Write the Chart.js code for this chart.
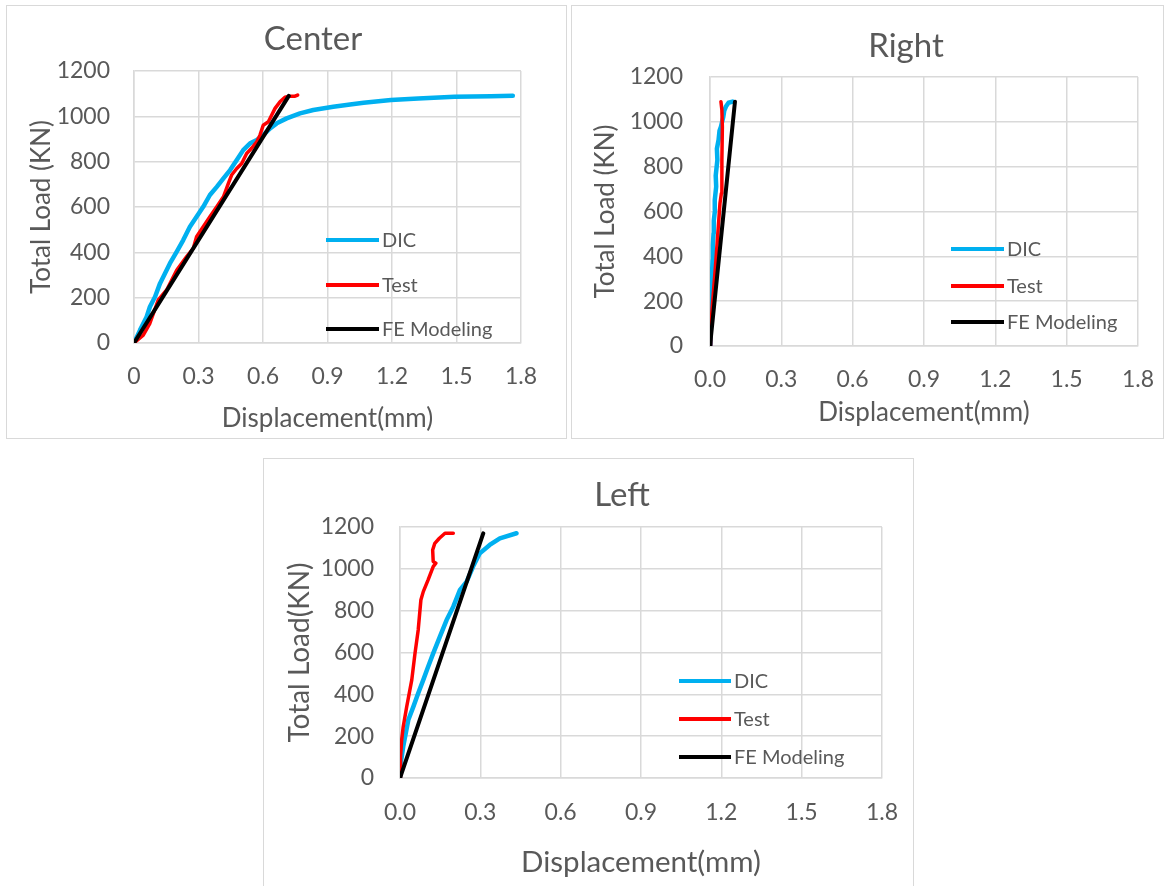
<!DOCTYPE html>
<html>
<head>
<meta charset="utf-8">
<title>Total Load vs Displacement</title>
<script src="https://cdn.jsdelivr.net/npm/chart.js@4.4.1/dist/chart.umd.min.js"></script>
<style>
    html, body { margin: 0; padding: 0; background: #fff; overflow: hidden; width: 1165px; height: 886px; }
    .box { position: absolute; border: 1px solid #D9D9D9; box-sizing: border-box; }
    canvas { position: absolute; }
</style>
</head>
<body>
<div class="box" style="left:6px;top:5px;width:561px;height:434px"></div>
<div class="box" style="left:571px;top:5px;width:593px;height:434px"></div>
<div class="box" style="left:263px;top:458px;width:651px;height:440px"></div>
<canvas id="centerChart" width="561" height="434" style="left:6px;top:5px"></canvas>
<canvas id="rightChart" width="603" height="434" style="left:571px;top:5px"></canvas>
<canvas id="leftChart" width="656" height="428" style="left:263px;top:458px"></canvas>

<script>
// axis ticks
const xTicks = [0, 0.3, 0.6, 0.9, 1.2, 1.5, 1.8];
const xLabelsCenter = ['0', '0.3', '0.6', '0.9', '1.2', '1.5', '1.8'];
const xLabelsSide = ['0.0', '0.3', '0.6', '0.9', '1.2', '1.5', '1.8'];
const yTicks = [0, 200, 400, 600, 800, 1000, 1200];
const yLabels = ['0', '200', '400', '600', '800', '1000', '1200'];
const seriesNames = ['DIC', 'Test', 'FE Modeling'];

// Center
const centerDicDisp = [0, 0.028, 0.059, 0.074, 0.098, 0.121, 0.144, 0.167, 0.199, 0.229, 0.260, 0.291, 0.322, 0.353, 0.385, 0.416, 0.447, 0.478, 0.508, 0.540, 0.571, 0.601, 0.633, 0.664, 0.710, 0.772, 0.834, 0.927, 1.005, 1.068, 1.195, 1.322, 1.491, 1.660, 1.762];
const centerDicLoad = [0, 57, 116, 160, 204, 263, 307, 351, 403, 454, 513, 557, 601, 653, 689, 726, 763, 807, 851, 881, 895, 917, 947, 969, 991, 1013, 1028, 1042, 1052, 1060, 1072, 1079, 1086, 1089, 1091];
const centerTestDisp = [0, 0.043, 0.074, 0.113, 0.152, 0.199, 0.245, 0.276, 0.291, 0.322, 0.353, 0.385, 0.416, 0.439, 0.454, 0.478, 0.501, 0.524, 0.547, 0.571, 0.586, 0.601, 0.625, 0.640, 0.656, 0.679, 0.702, 0.726, 0.749, 0.761];
const centerTestLoad = [0, 35, 87, 190, 234, 322, 381, 418, 469, 513, 557, 601, 645, 704, 741, 770, 792, 836, 859, 888, 917, 961, 976, 1005, 1035, 1064, 1084, 1089, 1089, 1094];
const centerFeDisp = [0, 0.72];
const centerFeLoad = [0, 1090];

// Right
const rightDicDisp = [0, 0.003, 0.005, 0.007, 0.008, 0.011, 0.012, 0.015, 0.016, 0.021, 0.020, 0.026, 0.024, 0.031, 0.029, 0.036, 0.040, 0.046, 0.056, 0.060, 0.067, 0.078, 0.095];
const rightDicLoad = [0, 56, 150, 235, 300, 384, 450, 503, 560, 607, 650, 711, 760, 830, 880, 919, 960, 978, 1023, 1050, 1068, 1085, 1090];
const rightTestDisp = [0, 0.003, 0.014, 0.025, 0.035, 0.042, 0.048, 0.050, 0.052, 0.050, 0.046];
const rightTestLoad = [0, 86, 235, 384, 532, 637, 681, 830, 978, 1053, 1090];
const rightFeDisp = [0, 0.105];
const rightFeLoad = [0, 1090];

// Left
const leftDicDisp = [0, 0.004, 0.012, 0.031, 0.050, 0.068, 0.087, 0.105, 0.124, 0.149, 0.174, 0.199, 0.224, 0.249, 0.273, 0.298, 0.335, 0.373, 0.435];
const leftDicLoad = [0, 80, 150, 277, 341, 405, 469, 532, 596, 676, 755, 819, 899, 939, 1011, 1074, 1114, 1146, 1170];
const leftTestDisp = [0, 0.002, 0.006, 0.012, 0.025, 0.044, 0.056, 0.068, 0.078, 0.087, 0.105, 0.124, 0.134, 0.124, 0.122, 0.130, 0.147, 0.168, 0.199];
const leftTestLoad = [0, 100, 180, 245, 341, 469, 596, 708, 851, 891, 947, 1011, 1027, 1035, 1090, 1122, 1146, 1170, 1170];
const leftFeDisp = [0, 0.311];
const leftFeLoad = [0, 1170];

const seriesColors = ['#00B0F0', '#FF0000', '#000000'];
const seriesWidths = [4.5, 3.5, 4];
const textColor = '#595959';
const gridColor = '#D9D9D9';
const fontFamily = 'Lato, "Open Sans", sans-serif';

// chart title placed where Excel put it (not centred on the canvas)
const boxTitle = {
    id: 'boxTitle',
    afterDraw(chart, args, opts) {
        const ctx = chart.ctx;
        ctx.save();
        ctx.font = '33px ' + fontFamily;
        ctx.fillStyle = textColor;
        ctx.textAlign = 'center';
        ctx.textBaseline = 'middle';
        ctx.fillText(opts.text, opts.x, opts.y);
        ctx.restore();
    }
};

// legend drawn inside the plot area, like the Excel original
const insideLegend = {
    id: 'insideLegend',
    afterDraw(chart, args, opts) {
        const ctx = chart.ctx;
        ctx.save();
        ctx.font = '20px ' + fontFamily;
        ctx.textBaseline = 'middle';
        ctx.textAlign = 'left';
        chart.data.datasets.forEach((ds, i) => {
            const y = opts.y[i];
            ctx.strokeStyle = ds.borderColor;
            ctx.lineWidth = 4;
            ctx.beginPath();
            ctx.moveTo(opts.x, y);
            ctx.lineTo(opts.x + opts.len, y);
            ctx.stroke();
            ctx.fillStyle = textColor;
            ctx.fillText(ds.label, opts.x + opts.len + 3, y + 1);
        });
        ctx.restore();
    }
};

function buildChart(id, p) {
    const datasets = p.series.map((s, i) => ({
        label: seriesNames[i],
        data: s[0].map((x, k) => ({ x: x, y: s[1][k] })),
        showLine: true,
        borderColor: seriesColors[i],
        backgroundColor: seriesColors[i],
        borderWidth: seriesWidths[i],
        borderCapStyle: 'round',
        borderJoinStyle: 'round',
        pointRadius: 0,
        tension: 0,
        order: 3 - i
    }));

    return new Chart(document.getElementById(id), {
        type: 'scatter',
        data: { datasets: datasets },
        options: {
            responsive: false,
            animation: false,
            layout: { padding: { left: 0, right: p.padRight, top: p.padTop, bottom: 0 } },
            plugins: {
                legend: { display: false },
                tooltip: { enabled: false },
                title: { display: false },
                boxTitle: p.title,
                insideLegend: p.legend
            },
            scales: {
                x: {
                    type: 'linear',
                    min: 0,
                    max: 1.8,
                    afterFit: s => { s.height = p.xHeight; },
                    afterBuildTicks: s => { s.ticks = xTicks.map(v => ({ value: v })); },
                    ticks: {
                        callback: (v, i) => p.xLabels[i],
                        color: textColor,
                        font: { family: fontFamily, size: 23 },
                        padding: p.xTickPad,
                        maxRotation: 0
                    },
                    grid: { color: gridColor, lineWidth: 1.5, drawTicks: false },
                    border: { color: gridColor, width: 1.5 },
                    title: {
                        display: true,
                        text: 'Displacement(mm)',
                        color: textColor,
                        font: { family: fontFamily, size: p.xTitleSize, lineHeight: 1.2 },
                        padding: { top: 0, bottom: p.xTitleBottom }
                    }
                },
                y: {
                    type: 'linear',
                    min: 0,
                    max: 1200,
                    afterFit: s => { s.width = p.yWidth; },
                    afterBuildTicks: s => { s.ticks = yTicks.map(v => ({ value: v })); },
                    ticks: {
                        callback: (v, i) => yLabels[i],
                        color: textColor,
                        font: { family: fontFamily, size: 23 },
                        padding: p.yTickPad
                    },
                    grid: { color: gridColor, lineWidth: 1.5, drawTicks: false },
                    border: { color: gridColor, width: 1.5 },
                    title: {
                        display: true,
                        text: p.yTitle,
                        color: textColor,
                        font: { family: fontFamily, size: p.yTitleSize, lineHeight: 1.2 },
                        padding: { top: p.yTitleTop, bottom: 0 }
                    }
                }
            }
        },
        plugins: [boxTitle, insideLegend]
    });
}

buildChart('centerChart', {
    title: { text: 'Center', x: 307, y: 34 },
    series: [[centerDicDisp, centerDicLoad], [centerTestDisp, centerTestLoad], [centerFeDisp, centerFeLoad]],
    xLabels: xLabelsCenter,
    yTitle: 'Total Load (KN)',
    padRight: 46, padTop: 66,
    xHeight: 96, xTickPad: 20, xTitleSize: 26, xTitleBottom: 4.4,
    yWidth: 128, yTickPad: 24, yTitleSize: 26, yTitleTop: 20.4,
    legend: { x: 320, len: 53, y: [235, 280, 324] }
});

buildChart('rightChart', {
    title: { text: 'Right', x: 335, y: 41 },
    series: [[rightDicDisp, rightDicLoad], [rightTestDisp, rightTestLoad], [rightFeDisp, rightFeLoad]],
    xLabels: xLabelsSide,
    yTitle: 'Total Load (KN)',
    padRight: 36, padTop: 72,
    xHeight: 93, xTickPad: 20, xTitleSize: 26, xTitleBottom: 10.4,
    yWidth: 139, yTickPad: 27, yTitleSize: 26, yTitleTop: 19.4,
    legend: { x: 380, len: 53, y: [244, 281, 317] }
});

buildChart('leftChart', {
    title: { text: 'Left', x: 359, y: 37 },
    series: [[leftDicDisp, leftDicLoad], [leftTestDisp, leftTestLoad], [leftFeDisp, leftFeLoad]],
    xLabels: xLabelsSide,
    yTitle: 'Total Load(KN)',
    padRight: 36, padTop: 69,
    xHeight: 108, xTickPad: 21, xTitleSize: 29.5, xTitleBottom: 6.3,
    yWidth: 137, yTickPad: 26, yTitleSize: 28, yTitleTop: 20,
    legend: { x: 416, len: 52, y: [223, 261, 299] }
});
</script>
</body>
</html>
